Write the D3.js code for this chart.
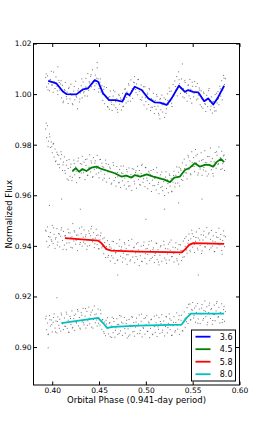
<!DOCTYPE html>
<html>
<head>
<meta charset="utf-8">
<script src="https://cdn.jsdelivr.net/npm/d3@7"></script>
<style>
  body { margin: 0; background: #fff; }
  text { font-family: "DejaVu Sans", sans-serif; fill: #000; }
</style>
</head>
<body>
<script>
// Binned (smoothed) light curves, one per IRAC channel: [phase, flux]
const line36 = [[0.3957,1.0052],[0.4045,1.0042],[0.4117,1.0009],[0.4152,1.0000],[0.4258,0.9999],[0.4330,1.0019],[0.4383,1.0023],[0.4454,1.0055],[0.4490,1.0049],[0.4543,1.0003],[0.4607,0.9976],[0.4678,0.9976],[0.4749,0.9970],[0.4791,1.0003],[0.4827,0.9996],[0.4881,1.0029],[0.4955,1.0016],[0.5026,0.9983],[0.5097,0.9967],[0.5150,0.9966],[0.5222,0.9957],[0.5275,0.9983],[0.5353,1.0033],[0.5417,1.0009],[0.5452,1.0016],[0.5505,1.0009],[0.5559,1.0007],[0.5623,0.9972],[0.5665,0.9983],[0.5719,0.9959],[0.5765,0.9983],[0.5836,1.0033]];
const line45 = [[0.4216,0.9696],[0.4252,0.9707],[0.4287,0.9693],[0.4322,0.9704],[0.4365,0.9696],[0.4418,0.9709],[0.4471,0.9713],[0.4525,0.9704],[0.4596,0.9696],[0.4668,0.9687],[0.4738,0.9674],[0.4791,0.9678],[0.4845,0.9670],[0.4884,0.9680],[0.4937,0.9674],[0.5009,0.9683],[0.5079,0.9674],[0.5150,0.9667],[0.5204,0.9661],[0.5257,0.9652],[0.5303,0.9670],[0.5364,0.9674],[0.5417,0.9700],[0.5470,0.9709],[0.5524,0.9727],[0.5577,0.9713],[0.5630,0.9720],[0.5673,0.9720],[0.5719,0.9713],[0.5755,0.9731],[0.5801,0.9744],[0.5836,0.9731]];
const line58 = [[0.4136,0.9431],[0.4490,0.9421],[0.4525,0.9411],[0.4578,0.9387],[0.4631,0.9381],[0.4916,0.9377],[0.5382,0.9374],[0.5417,0.9385],[0.5463,0.9404],[0.5505,0.9411],[0.5836,0.9408]];
const line80 = [[0.4098,0.9095],[0.4436,0.9112],[0.4490,0.9115],[0.4543,0.9095],[0.4586,0.9076],[0.4650,0.9080],[0.4916,0.9085],[0.5382,0.9089],[0.5435,0.9115],[0.5481,0.9132],[0.5836,0.9132]];

// Individual photometric points, first set: [phase, flux]
const pts36 = [[0.393,1.0065],[0.394,1.0028],[0.395,1.0072],[0.396,1.0041],[0.397,1.0013],[0.398,1.0058],[0.399,1.0090],[0.400,1.0036],[0.401,1.0007],[0.402,1.0049],
[0.403,1.0022],[0.404,1.0068],[0.405,1.0031],[0.406,0.9998],[0.407,1.0054],[0.408,1.0016],[0.409,1.0040],[0.410,0.9985],
[0.411,1.0035],[0.412,0.9972],[0.413,1.0018],[0.414,1.0046],[0.415,0.9990],[0.416,1.0008],[0.417,0.9963],[0.418,1.0027],[0.419,0.9981],[0.420,1.0039],
[0.421,0.9995],[0.422,0.9958],[0.423,1.0012],[0.424,0.9977],[0.425,1.0051],[0.426,0.9988],[0.427,0.9942],[0.428,1.0021],[0.429,0.9969],[0.430,1.0004],
[0.431,1.0033],[0.432,0.9985],[0.433,1.0048],[0.434,1.0010],[0.435,0.9993],[0.436,1.0062],[0.437,1.0027],[0.438,1.0081],[0.439,1.0015],[0.440,1.0044],
[0.441,1.0070],[0.442,1.0029],[0.443,1.0096],[0.444,1.0052],[0.445,1.0018],[0.446,1.0075],[0.447,1.0041],[0.448,1.0104],[0.449,1.0060],[0.450,1.0022],
[0.451,1.0047],[0.452,1.0008],[0.453,1.0033],[0.454,0.9975],[0.455,1.0019],[0.456,0.9962],[0.457,0.9994],[0.458,1.0026],[0.459,0.9951],[0.460,0.9987],
[0.461,0.9940],[0.462,1.0012],[0.463,0.9968],[0.464,0.9935],[0.465,0.9992],[0.466,0.9957],[0.467,1.0009],[0.468,0.9946],[0.469,0.9981],[0.470,0.9928],
[0.471,0.9999],[0.472,0.9960],[0.473,0.9985],[0.474,0.9937],[0.475,1.0003],[0.476,0.9952],[0.477,0.9978],[0.478,1.0021],[0.479,0.9965],[0.480,1.0008],
[0.481,0.9972],[0.482,1.0035],[0.483,0.9991],[0.484,1.0056],[0.485,1.0014],[0.486,0.9983],[0.487,1.0047],[0.488,1.0069],[0.489,1.0018],[0.490,1.0040],
[0.491,0.9997],[0.492,1.0058],[0.493,1.0011],[0.494,0.9979],[0.495,1.0036],[0.496,0.9988],[0.497,1.0015],[0.498,0.9957],[0.499,1.0029],[0.500,0.9970],
[0.501,0.9941],[0.502,1.0004],[0.503,0.9959],[0.504,1.0017],[0.505,0.9935],[0.506,0.9982],[0.507,0.9948],[0.508,1.0003],[0.509,0.9923],[0.510,0.9975],
[0.511,0.9940],[0.512,0.9991],[0.513,0.9952],[0.514,0.9917],[0.515,0.9978],[0.516,0.9938],[0.517,0.9996],[0.518,0.9929],[0.519,0.9965],[0.520,0.9908],
[0.521,0.9979],[0.522,0.9942],[0.523,1.0001],[0.524,0.9960],[0.525,1.0024],[0.526,0.9973],[0.527,1.0012],[0.528,0.9951],[0.529,1.0038],[0.530,0.9994],
[0.531,1.0052],[0.532,1.0016],[0.533,1.0069],[0.534,1.0025],[0.535,1.0088],[0.536,1.0041],[0.537,1.0003],[0.538,1.0060],[0.539,1.0119],[0.540,1.0022],
[0.541,0.9985],[0.542,1.0046],[0.543,1.0007],[0.544,0.9972],[0.545,1.0035],[0.546,0.9993],[0.547,1.0058],[0.548,1.0019],[0.549,0.9964],[0.550,1.0031],
[0.551,0.9989],[0.552,1.0050],[0.553,1.0006],[0.554,0.9977],[0.555,1.0042],[0.556,0.9996],[0.557,1.0024],[0.558,0.9958],[0.559,1.0013],[0.560,0.9981],
[0.561,0.9944],[0.562,1.0002],[0.563,0.9963],[0.564,0.9931],[0.565,0.9995],[0.566,0.9950],[0.567,1.0014],[0.568,0.9972],[0.569,0.9938],[0.570,0.9989],
[0.571,0.9925],[0.572,0.9971],[0.573,0.9947],[0.574,0.9998],[0.575,0.9934],[0.576,0.9965],[0.577,1.0010],[0.578,0.9958],[0.579,1.0031],[0.580,0.9992],
[0.581,1.0053],[0.582,1.0016],[0.583,1.0074],[0.584,1.0038],[0.585,1.0061]];

const pts45 = [[0.393,0.9862],[0.394,0.9828],[0.395,0.9875],[0.396,0.9814],[0.397,0.9842],[0.398,0.9789],[0.399,0.9811],[0.400,0.9768],[0.401,0.9802],[0.402,0.9751],
[0.403,0.9783],[0.404,0.9736],[0.405,0.9770],[0.406,0.9722],[0.407,0.9758],[0.408,0.9709],[0.409,0.9744],[0.410,0.9761],[0.411,0.9698],[0.412,0.9731],
[0.413,0.9752],[0.414,0.9687],[0.415,0.9719],[0.416,0.9664],[0.417,0.9706],[0.418,0.9741],[0.419,0.9675],[0.420,0.9723],[0.421,0.9658],[0.422,0.9694],
[0.423,0.9739],[0.424,0.9681],[0.425,0.9712],[0.426,0.9650],[0.427,0.9702],[0.428,0.9747],[0.429,0.9669],[0.430,0.9725],
[0.431,0.9688],[0.432,0.9754],[0.433,0.9697],[0.434,0.9731],[0.435,0.9662],[0.436,0.9718],[0.437,0.9743],[0.438,0.9679],[0.439,0.9707],[0.440,0.9760],
[0.441,0.9692],[0.442,0.9728],[0.443,0.9671],[0.444,0.9749],[0.445,0.9703],[0.446,0.9736],[0.447,0.9684],[0.448,0.9758],[0.449,0.9715],[0.450,0.9669],
[0.451,0.9741],[0.452,0.9695],[0.453,0.9727],[0.454,0.9660],[0.455,0.9711],[0.456,0.9683],[0.457,0.9739],[0.458,0.9652],[0.459,0.9698],[0.460,0.9722],
[0.461,0.9667],[0.462,0.9705],[0.463,0.9644],[0.464,0.9691],[0.465,0.9729],[0.466,0.9658],[0.467,0.9687],[0.468,0.9636],[0.469,0.9714],[0.470,0.9673],
[0.471,0.9649],[0.472,0.9702],[0.473,0.9631],[0.474,0.9688],[0.475,0.9657],[0.476,0.9716],[0.477,0.9640],[0.478,0.9679],[0.479,0.9625],[0.480,0.9693],
[0.481,0.9654],[0.482,0.9708],[0.483,0.9637],[0.484,0.9682],[0.485,0.9619],[0.486,0.9671],[0.487,0.9703],[0.488,0.9645],[0.489,0.9690],[0.490,0.9628],
[0.491,0.9715],[0.492,0.9662],[0.493,0.9698],[0.494,0.9640],[0.495,0.9686],[0.496,0.9723],[0.497,0.9651],[0.498,0.9677],[0.499,0.9634],[0.500,0.9709],
[0.501,0.9668],[0.502,0.9626],[0.503,0.9695],[0.504,0.9647],[0.505,0.9681],[0.506,0.9615],[0.507,0.9660],[0.508,0.9702],[0.509,0.9638],[0.510,0.9674],
[0.511,0.9621],[0.512,0.9689],[0.513,0.9643],[0.514,0.9606],[0.515,0.9665],[0.516,0.9631],[0.517,0.9692],[0.518,0.9618],[0.519,0.9654],[0.520,0.9599],
[0.521,0.9672],[0.522,0.9627],[0.523,0.9661],[0.524,0.9610],[0.525,0.9684],[0.526,0.9636],[0.527,0.9667],[0.528,0.9614],[0.529,0.9652],[0.530,0.9695],
[0.531,0.9633],[0.532,0.9679],[0.533,0.9712],[0.534,0.9648],[0.535,0.9691],[0.536,0.9637],[0.537,0.9705],[0.538,0.9662],[0.539,0.9728],[0.540,0.9676],
[0.541,0.9743],[0.542,0.9689],[0.543,0.9719],[0.544,0.9665],[0.545,0.9758],[0.546,0.9702],[0.547,0.9736],[0.548,0.9681],[0.549,0.9772],[0.550,0.9714],
[0.551,0.9749],[0.552,0.9693],[0.553,0.9781],[0.554,0.9727],[0.555,0.9762],[0.556,0.9688],[0.557,0.9735],[0.558,0.9704],[0.559,0.9768],[0.560,0.9679],
[0.561,0.9741],[0.562,0.9710],[0.563,0.9776],[0.564,0.9695],[0.565,0.9728],[0.566,0.9753],[0.567,0.9684],[0.568,0.9720],[0.569,0.9787],[0.570,0.9701],
[0.571,0.9745],[0.572,0.9676],[0.573,0.9732],[0.574,0.9769],[0.575,0.9707],[0.576,0.9758],[0.577,0.9722],[0.578,0.9791],[0.579,0.9738],[0.580,0.9702],
[0.581,0.9774],[0.582,0.9725],[0.583,0.9756],[0.584,0.9698],[0.585,0.9741]];

const pts58 = [[0.393,0.9462],[0.394,0.9418],[0.395,0.9475],[0.396,0.9437],[0.397,0.9401],[0.398,0.9453],[0.399,0.9424],[0.400,0.9481],[0.401,0.9409],[0.402,0.9446],
[0.403,0.9390],[0.404,0.9433],[0.405,0.9468],[0.406,0.9415],[0.407,0.9449],[0.408,0.9396],[0.409,0.9438],[0.410,0.9472],[0.411,0.9421],[0.412,0.9457],
[0.413,0.9403],[0.414,0.9441],[0.415,0.9385],[0.416,0.9429],[0.417,0.9466],[0.418,0.9412],[0.419,0.9451],[0.420,0.9394],[0.421,0.9436],[0.422,0.9488],
[0.423,0.9419],[0.424,0.9455],[0.425,0.9407],[0.426,0.9442],[0.427,0.9381],[0.428,0.9427],[0.429,0.9470],[0.430,0.9413],[0.431,0.9448],[0.432,0.9399],
[0.433,0.9435],[0.434,0.9463],[0.435,0.9408],[0.436,0.9444],[0.437,0.9386],[0.438,0.9425],[0.439,0.9459],[0.440,0.9402],[0.441,0.9440],[0.442,0.9477],
[0.443,0.9416],[0.444,0.9452],[0.445,0.9393],[0.446,0.9431],[0.447,0.9466],[0.448,0.9405],[0.449,0.9443],[0.450,0.9388],[0.451,0.9424],[0.452,0.9451],
[0.453,0.9392],[0.454,0.9428],[0.455,0.9369],[0.456,0.9413],[0.457,0.9354],[0.458,0.9397],[0.459,0.9421],[0.460,0.9362],[0.461,0.9405],[0.462,0.9340],
[0.463,0.9391],[0.464,0.9418],[0.465,0.9352],[0.466,0.9386],[0.467,0.9331],[0.468,0.9374],[0.469,0.9409],[0.470,0.9345],[0.471,0.9382],[0.472,0.9424],
[0.473,0.9359],[0.474,0.9396],[0.475,0.9336],[0.476,0.9371],[0.477,0.9413],[0.478,0.9348],[0.479,0.9389],[0.480,0.9327],[0.481,0.9365],[0.482,0.9402],
[0.483,0.9340],[0.484,0.9379],[0.485,0.9426],[0.486,0.9356],[0.487,0.9393],[0.488,0.9333],[0.489,0.9372],[0.490,0.9408],[0.491,0.9347],[0.492,0.9384],
[0.493,0.9322],[0.494,0.9361],[0.495,0.9399],[0.496,0.9338],[0.497,0.9377],[0.498,0.9415],[0.499,0.9351],[0.500,0.9388],[0.501,0.9329],[0.502,0.9366],
[0.503,0.9404],[0.504,0.9343],[0.505,0.9381],[0.506,0.9420],[0.507,0.9355],[0.508,0.9392],[0.509,0.9334],[0.510,0.9370],[0.511,0.9411],[0.512,0.9346],
[0.513,0.9385],[0.514,0.9325],[0.515,0.9363],[0.516,0.9401],[0.517,0.9339],[0.518,0.9376],[0.519,0.9418],[0.520,0.9352],[0.521,0.9390],[0.522,0.9331],
[0.523,0.9368],[0.524,0.9407],[0.525,0.9344],[0.526,0.9383],[0.527,0.9423],[0.528,0.9358],[0.529,0.9395],[0.530,0.9336],[0.531,0.9373],[0.532,0.9412],
[0.533,0.9349],[0.534,0.9387],[0.535,0.9328],[0.536,0.9366],[0.537,0.9404],
[0.538,0.9342],[0.539,0.9380],[0.540,0.9419],[0.541,0.9357],[0.542,0.9398],[0.543,0.9436],[0.544,0.9371],[0.545,0.9410],[0.546,0.9447],[0.547,0.9383],
[0.548,0.9428],[0.549,0.9462],[0.550,0.9395],[0.551,0.9437],[0.552,0.9374],[0.553,0.9418],[0.554,0.9455],[0.555,0.9391],[0.556,0.9431],[0.557,0.9469],
[0.558,0.9402],[0.559,0.9444],[0.560,0.9380],[0.561,0.9423],[0.562,0.9458],[0.563,0.9396],[0.564,0.9435],[0.565,0.9472],[0.566,0.9408],[0.567,0.9447],
[0.568,0.9385],[0.569,0.9426],[0.570,0.9461],[0.571,0.9399],[0.572,0.9440],[0.573,0.9377],[0.574,0.9416],[0.575,0.9453],[0.576,0.9392],[0.577,0.9433],
[0.578,0.9470],[0.579,0.9404],[0.580,0.9445],[0.581,0.9382],[0.582,0.9421],[0.583,0.9459],[0.584,0.9397],[0.585,0.9436]];

const pts80 = [[0.393,0.9112],[0.394,0.9068],[0.395,0.9095],[0.396,0.9051],[0.397,0.9124],[0.398,0.9083],[0.399,0.9107],[0.400,0.9060],[0.401,0.9098],[0.402,0.9131],
[0.403,0.9075],[0.404,0.9103],[0.405,0.9056],[0.406,0.9119],[0.407,0.9086],[0.408,0.9110],[0.409,0.9063],[0.410,0.9127],[0.411,0.9092],[0.412,0.9069],
[0.413,0.9115],[0.414,0.9081],[0.415,0.9138],[0.416,0.9074],[0.417,0.9106],[0.418,0.9058],[0.419,0.9121],[0.420,0.9089],[0.421,0.9143],[0.422,0.9078],
[0.423,0.9112],[0.424,0.9066],[0.425,0.9130],[0.426,0.9095],[0.427,0.9148],[0.428,0.9084],[0.429,0.9117],[0.430,0.9071],[0.431,0.9136],[0.432,0.9100],
[0.433,0.9153],[0.434,0.9088],[0.435,0.9122],[0.436,0.9075],[0.437,0.9141],[0.438,0.9104],[0.439,0.9158],[0.440,0.9092],[0.441,0.9127],[0.442,0.9079],
[0.443,0.9146],[0.444,0.9109],[0.445,0.9162],[0.446,0.9096],[0.447,0.9131],[0.448,0.9083],[0.449,0.9150],[0.450,0.9114],
[0.451,0.9087],[0.452,0.9132],[0.453,0.9070],[0.454,0.9108],[0.455,0.9061],[0.456,0.9099],[0.457,0.9045],[0.458,0.9091],[0.459,0.9116],[0.460,0.9052],
[0.461,0.9094],[0.462,0.9041],[0.463,0.9083],[0.464,0.9118],[0.465,0.9057],[0.466,0.9101],[0.467,0.9039],[0.468,0.9076],[0.469,0.9112],[0.470,0.9050],
[0.471,0.9089],[0.472,0.9125],[0.473,0.9064],[0.474,0.9098],[0.475,0.9046],[0.476,0.9081],[0.477,0.9117],[0.478,0.9055],[0.479,0.9093],[0.480,0.9036],
[0.481,0.9072],[0.482,0.9109],[0.483,0.9048],[0.484,0.9086],[0.485,0.9121],[0.486,0.9060],[0.487,0.9097],[0.488,0.9043],[0.489,0.9079],[0.490,0.9114],
[0.491,0.9053],[0.492,0.9091],[0.493,0.9127],[0.494,0.9066],[0.495,0.9102],[0.496,0.9040],[0.497,0.9077],[0.498,0.9113],[0.499,0.9051],[0.500,0.9088],
[0.501,0.9124],[0.502,0.9062],[0.503,0.9099],[0.504,0.9037],[0.505,0.9074],[0.506,0.9110],[0.507,0.9049],[0.508,0.9085],[0.509,0.9122],[0.510,0.9058],
[0.511,0.9096],[0.512,0.9042],[0.513,0.9080],[0.514,0.9116],[0.515,0.9054],[0.516,0.9092],[0.517,0.9128],[0.518,0.9067],[0.519,0.9103],[0.520,0.9044],
[0.521,0.9081],[0.522,0.9119],[0.523,0.9056],[0.524,0.9094],[0.525,0.9131],[0.526,0.9069],[0.527,0.9106],[0.528,0.9047],[0.529,0.9084],[0.530,0.9120],
[0.531,0.9059],[0.532,0.9097],[0.533,0.9135],[0.534,0.9071],[0.535,0.9108],[0.536,0.9050],[0.537,0.9087],[0.538,0.9126],
[0.539,0.9064],[0.540,0.9102],[0.541,0.9139],[0.542,0.9078],[0.543,0.9117],[0.544,0.9156],[0.545,0.9093],[0.546,0.9133],[0.547,0.9170],[0.548,0.9108],
[0.549,0.9149],[0.550,0.9176],[0.551,0.9115],[0.552,0.9154],[0.553,0.9098],[0.554,0.9137],[0.555,0.9172],[0.556,0.9111],[0.557,0.9150],[0.558,0.9093],
[0.559,0.9131],[0.560,0.9168],[0.561,0.9106],[0.562,0.9145],[0.563,0.9182],[0.564,0.9120],[0.565,0.9159],[0.566,0.9097],[0.567,0.9136],[0.568,0.9174],
[0.569,0.9113],[0.570,0.9152],[0.571,0.9090],[0.572,0.9129],[0.573,0.9166],[0.574,0.9104],[0.575,0.9143],[0.576,0.9180],[0.577,0.9118],[0.578,0.9157],
[0.579,0.9095],[0.580,0.9134],[0.581,0.9171],[0.582,0.9109],[0.583,0.9148],[0.584,0.9102],[0.585,0.9140]];

// Individual photometric points, second set: shared phases, one flux list per channel
const phase2 = [0.3935,0.3955,0.3975,0.3995,0.4015,0.4035,0.4055,0.4075,0.4095,0.4115,0.4135,0.4155,0.4175,0.4195,0.4215,0.4235,0.4255,0.4275,0.4295,0.4315,
0.4335,0.4355,0.4375,0.4395,0.4415,0.4435,0.4455,0.4475,0.4495,0.4515,0.4535,0.4555,0.4575,0.4595,0.4615,0.4635,0.4655,0.4675,0.4695,0.4715,
0.4735,0.4755,0.4775,0.4795,0.4815,0.4835,0.4855,0.4875,0.4895,0.4915,0.4935,0.4955,0.4975,0.4995,0.5015,0.5035,0.5055,0.5075,0.5095,0.5115,
0.5135,0.5155,0.5175,0.5195,0.5215,0.5235,0.5255,0.5275,0.5295,0.5315,0.5335,0.5355,0.5375,0.5395,0.5415,0.5435,0.5455,0.5475,0.5495,0.5515,
0.5535,0.5555,0.5575,0.5595,0.5615,0.5635,0.5655,0.5675,0.5695,0.5715,0.5735,0.5755,0.5775,0.5795,0.5815,0.5835];
const flux36b = [1.0080,1.0017,1.0055,1.0036,1.0087,1.0041,1.0013,1.0046,1.0053,0.9966,1.0014,0.9981,1.0022,1.0001,0.9962,1.0030,0.9992,1.0013,0.9981,1.0060,
1.0005,1.0028,0.9992,1.0049,1.0077,1.0048,1.0033,1.0063,1.0008,1.0060,1.0000,1.0029,0.9988,0.9948,0.9990,0.9959,1.0015,0.9970,0.9939,0.9994,
0.9979,0.9950,1.0019,0.9987,1.0041,0.9972,1.0022,1.0045,1.0006,1.0057,1.0018,0.9976,1.0029,0.9986,0.9999,1.0022,0.9948,0.9977,0.9951,0.9998,
0.9924,0.9983,0.9958,0.9985,0.9924,0.9975,1.0011,0.9964,0.9993,1.0030,0.9993,1.0057,1.0024,0.9989,1.0053,1.0002,1.0036,0.9982,1.0047,1.0003,
1.0030,0.9981,1.0016,0.9950,1.0008,0.9959,0.9980,1.0022,0.9952,0.9969,0.9933,1.0003,0.9982,1.0021,0.9977,1.0063];
const flux45b = [0.9885,0.9792,0.9831,0.9792,0.9805,0.9733,0.9761,0.9722,0.9772,0.9720,0.9698,0.9737,0.9660,0.9711,0.9671,0.9725,0.9695,0.9735,0.9670,0.9723,
0.9689,0.9741,0.9679,0.9711,0.9736,0.9674,0.9727,0.9706,0.9689,0.9742,0.9713,0.9667,0.9725,0.9692,0.9711,0.9648,0.9719,0.9670,0.9690,0.9651,
0.9715,0.9687,0.9668,0.9702,0.9636,0.9671,0.9705,0.9655,0.9697,0.9681,0.9643,0.9718,0.9665,0.9710,0.9658,0.9688,0.9698,0.9638,0.9666,0.9709,
0.9651,0.9681,0.9635,0.9664,0.9693,0.9646,0.9678,0.9616,0.9678,0.9648,0.9670,0.9711,0.9699,0.9659,0.9706,0.9688,0.9751,0.9685,0.9729,0.9714,
0.9756,0.9680,0.9714,0.9738,0.9700,0.9729,0.9676,0.9753,0.9733,0.9686,0.9717,0.9772,0.9725,0.9749,0.9705,0.9759];
const flux58b = [0.9458,0.9395,0.9435,0.9418,0.9471,0.9427,0.9403,0.9446,0.9463,0.9386,0.9439,0.9411,0.9452,0.9431,0.9392,0.9460,0.9422,0.9443,0.9406,0.9475,
0.9415,0.9436,0.9399,0.9449,0.9467,0.9428,0.9408,0.9441,0.9389,0.9440,0.9398,0.9432,0.9391,0.9355,0.9396,0.9361,0.9417,0.9372,0.9342,0.9399,
0.9386,0.9353,0.9407,0.9365,0.9421,0.9345,0.9380,0.9395,0.9358,0.9413,0.9377,0.9339,0.9402,0.9369,0.9390,0.9418,0.9350,0.9385,0.9362,0.9409,
0.9336,0.9396,0.9374,0.9404,0.9344,0.9388,0.9414,0.9357,0.9371,0.9393,0.9341,0.9405,0.9382,0.9355,0.9429,0.9384,0.9422,0.9377,0.9448,0.9405,
0.9433,0.9384,0.9423,0.9370,0.9442,0.9396,0.9410,0.9452,0.9392,0.9419,0.9378,0.9435,0.9407,0.9426,0.9367,0.9440];
const flux80b = [0.9122,0.9049,0.9108,0.9089,0.9117,0.9060,0.9101,0.9074,0.9134,0.9096,0.9083,0.9130,0.9059,0.9113,0.9075,0.9125,0.9098,0.9142,0.9075,0.9126,
0.9096,0.9152,0.9086,0.9114,0.9138,0.9075,0.9128,0.9107,0.9094,0.9146,0.9108,0.9054,0.9106,0.9073,0.9097,0.9038,0.9113,0.9066,0.9089,0.9054,
0.9122,0.9094,0.9073,0.9106,0.9043,0.9081,0.9117,0.9062,0.9099,0.9084,0.9054,0.9130,0.9074,0.9116,0.9062,0.9095,0.9108,0.9051,0.9081,0.9126,
0.9070,0.9101,0.9058,0.9090,0.9121,0.9077,0.9112,0.9046,0.9098,0.9065,0.9085,0.9124,0.9106,0.9064,0.9111,0.9100,0.9169,0.9107,0.9145,0.9124,
0.9162,0.9094,0.9133,0.9154,0.9113,0.9141,0.9088,0.9165,0.9148,0.9105,0.9129,0.9173,0.9120,0.9137,0.9097,0.9160];

// Stray points between the bands
const outliers = [[0.3957,0.8997],[0.410,0.9585],[0.430,0.9545],[0.520,0.9545],[0.535,0.9570],[0.448,1.0125],[0.500,0.9505],[0.470,0.9285],[0.556,0.9285],[0.397,0.9560],[0.405,0.9195],[0.560,0.9585],[0.406,1.0108],[0.515,0.9902]];

const channels = ["3.6", "4.5", "5.8", "8.0"];
const colors = ["#0000ff", "#008000", "#ff0000", "#00bfbf"];
const xTicks = [0.40, 0.45, 0.50, 0.55, 0.60];
const yTicks = [0.90, 0.92, 0.94, 0.96, 0.98, 1.00, 1.02];

// Layout
const W = 266, H = 429;
const margin = { top: 43.5, right: 26.5, bottom: 44, left: 33.5 };
const width = W - margin.left - margin.right;
const height = H - margin.top - margin.bottom;

const svg = d3.select("body").append("svg")
  .attr("width", W)
  .attr("height", H);

const g = svg.append("g")
  .attr("transform", `translate(${margin.left},${margin.top})`);

// Scales
const x = d3.scaleLinear().domain([0.38, 0.60]).range([0, width]);
const y = d3.scaleLinear().domain([0.885, 1.02]).range([height, 0]);

// Points
const second = [flux36b, flux45b, flux58b, flux80b]
  .flatMap(f => f.map((v, i) => [phase2[i], v]));
const allPts = pts36.concat(pts45, pts58, pts80, second, outliers);
g.append("g")
  .selectAll("rect")
  .data(allPts)
  .join("rect")
  .attr("x", d => x(d[0]) - 0.5)
  .attr("y", d => y(d[1]) - 0.5)
  .attr("width", 1)
  .attr("height", 1)
  .attr("fill", "#333")
  .attr("opacity", 0.7);

// Binned curves
const lineGen = d3.line().x(d => x(d[0])).y(d => y(d[1]));
[line36, line45, line58, line80].forEach((ln, i) => {
  g.append("path")
    .datum(ln)
    .attr("d", lineGen)
    .attr("fill", "none")
    .attr("stroke", colors[i])
    .attr("stroke-width", 1.8)
    .attr("stroke-linejoin", "round");
});

// Axes: inward ticks on all four sides
const tk = 3.5;
const fmt2 = d3.format(".2f");
const xb = g.append("g").attr("transform", `translate(0,${height})`)
  .call(d3.axisBottom(x).tickValues(xTicks).tickFormat(fmt2).tickSize(-tk).tickPadding(3));
const xt = g.append("g")
  .call(d3.axisTop(x).tickValues(xTicks).tickFormat("").tickSize(-tk));
const yl = g.append("g")
  .call(d3.axisLeft(y).tickValues(yTicks).tickFormat(fmt2).tickSize(-tk).tickPadding(2));
const yr = g.append("g").attr("transform", `translate(${width},0)`)
  .call(d3.axisRight(y).tickValues(yTicks).tickFormat("").tickSize(-tk));
[xb, xt, yl, yr].forEach(a => {
  a.select(".domain").remove();
  a.selectAll("line").attr("stroke", "#000");
  a.selectAll("text").style("font-size", "7.5px").style("font-family", "DejaVu Sans");
});

// Frame
g.append("rect")
  .attr("width", width)
  .attr("height", height)
  .attr("fill", "none")
  .attr("stroke", "#000")
  .attr("stroke-width", 1);

// Axis labels
svg.append("text")
  .attr("x", margin.left + width / 2)
  .attr("y", 403)
  .attr("text-anchor", "middle")
  .style("font-size", "8.5px")
  .text("Orbital Phase (0.941-day period)");

svg.append("text")
  .attr("transform", `translate(12,${margin.top + height / 2}) rotate(-90)`)
  .attr("text-anchor", "middle")
  .style("font-size", "8.5px")
  .text("Normalized Flux");

// Legend
const lg = svg.append("g").attr("transform", "translate(191.5,330)");
lg.append("rect")
  .attr("width", 44)
  .attr("height", 51)
  .attr("fill", "#fff")
  .attr("stroke", "#000")
  .attr("stroke-width", 1);
channels.forEach((c, i) => {
  const yy = 6.7 + i * 12.5;
  lg.append("line")
    .attr("x1", 4).attr("x2", 19)
    .attr("y1", yy).attr("y2", yy)
    .attr("stroke", colors[i])
    .attr("stroke-width", 1.8);
  lg.append("text")
    .attr("x", 41)
    .attr("y", yy)
    .attr("dy", "0.35em")
    .attr("text-anchor", "end")
    .style("font-size", "8px")
    .text(c);
});
</script>
</body>
</html>
